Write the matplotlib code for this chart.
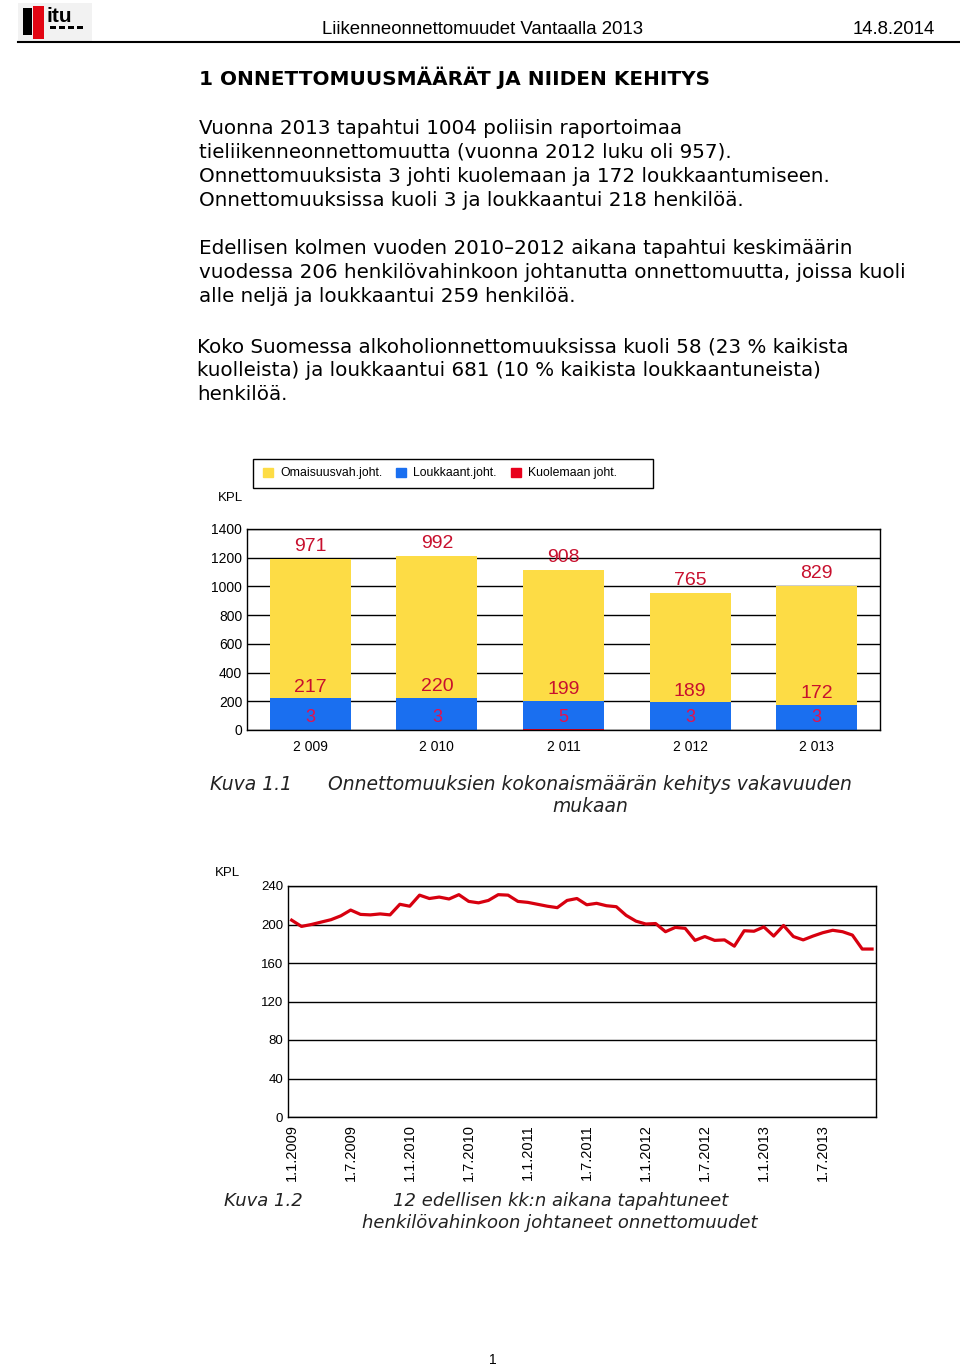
import numpy as np
import matplotlib
matplotlib.use("Agg")
import matplotlib.pyplot as plt
from matplotlib.patches import Rectangle, Patch
from matplotlib.lines import Line2D

plt.rcParams['font.family'] = ['Liberation Sans', 'DejaVu Sans']

# bar chart data (Kuva 1.1)
years = ['2 009', '2 010', '2 011', '2 012', '2 013']
kuolemaan = [3, 3, 5, 3, 3]
loukkaant = [217, 220, 199, 189, 172]
omaisuus = [971, 992, 908, 765, 829]

# line chart data (Kuva 1.2), monthly from 1.1.2009 to 12.2013
monthly = [204.5, 198, 200, 202.5, 205, 209, 215, 210.5, 210, 211,
           210, 221, 219, 230.5, 227, 228.5, 226.5, 231, 224, 222.5,
           225, 231, 230.5, 224, 223, 221, 219, 217.5, 225, 227,
           220.5, 222, 219.5, 218.5, 209.5, 203.5, 200.5, 201, 192.5, 197,
           196, 183.5, 187.5, 183.5, 184, 177.5, 193.5, 193, 197.5, 188,
           199, 187.5, 184, 188, 191.5, 194, 192.5, 189, 174.5, 174.5]
date_labels = ['1.1.2009', '1.7.2009', '1.1.2010', '1.7.2010', '1.1.2011',
               '1.7.2011', '1.1.2012', '1.7.2012', '1.1.2013', '1.7.2013']

W, H = 960, 1368


def fx(x):
  return x / W


def fy(y):
  return 1 - y / H


def rect(x, y, w, h, color, fill=True):
  # pixel box, top-left corner
  if fill:
    fig.add_artist(Rectangle((fx(x), fy(y + h)), w / W, h / H, color=color, lw=0))
  else:
    fig.add_artist(Rectangle((fx(x), fy(y + h)), w / W, h / H, facecolor='white',
                             edgecolor=color, lw=1))


fig = plt.figure(figsize=(9.6, 13.68), dpi=100)

# --- page header
rect(18, 3, 74, 38, '#f2f2f2')
rect(23, 8, 9, 27, 'black')
rect(33, 6, 11, 33, '#e30613')
fig.text(fx(47), fy(16), 'itu', fontsize=15, fontweight='bold', va='center')
for k in range(4):
  rect(50 + k * 9, 26, 6, 3, 'black')
fig.text(fx(322), fy(30), 'Liikenneonnettomuudet Vantaalla 2013', fontsize=13.4, va='center')
fig.text(fx(935), fy(30), '14.8.2014', fontsize=13.4, va='center', ha='right')
fig.add_artist(Line2D([fx(18), fx(960)], [fy(42), fy(42)], color='black', lw=1.5))

# --- text
body = ['DejaVu Sans']
fig.text(fx(199), fy(78), '1 ONNETTOMUUSMÄÄRÄT JA NIIDEN KEHITYS', fontsize=14.4,
         fontweight='bold', va='center', family=body)
lines = [
  (199, 128, 'Vuonna 2013 tapahtui 1004 poliisin raportoimaa'),
  (199, 152, 'tieliikenneonnettomuutta (vuonna 2012 luku oli 957).'),
  (199, 176, 'Onnettomuuksista 3 johti kuolemaan ja 172 loukkaantumiseen.'),
  (199, 200, 'Onnettomuuksissa kuoli 3 ja loukkaantui 218 henkilöä.'),
  (199, 248, 'Edellisen kolmen vuoden 2010\u20132012 aikana tapahtui keskimäärin'),
  (199, 272, 'vuodessa 206 henkilövahinkoon johtanutta onnettomuutta, joissa kuoli'),
  (199, 296, 'alle neljä ja loukkaantui 259 henkilöä.'),
  (197, 347, 'Koko Suomessa alkoholionnettomuuksissa kuoli 58 (23 % kaikista'),
  (197, 371, 'kuolleista) ja loukkaantui 681 (10 % kaikista loukkaantuneista)'),
  (197, 395, 'henkilöä.'),
]
for x0, y0, s in lines:
  fig.text(fx(x0), fy(y0), s, fontsize=14.3, va='center', family=body)

# --- bar chart
red = '#e8001c'
blue = '#1a6ff0'
yellow = '#fddc45'
lab_col = '#c8102e'
narrow = ['Liberation Sans Narrow', 'Liberation Sans']

ax1 = fig.add_axes([fx(247), fy(730), 633 / W, 201 / H])
x = np.arange(len(years))
base2 = np.array(kuolemaan)
base3 = base2 + np.array(loukkaant)
ax1.bar(x, kuolemaan, width=0.64, color=red)
ax1.bar(x, loukkaant, width=0.64, bottom=base2, color=blue)
ax1.bar(x, omaisuus, width=0.64, bottom=base3, color=yellow)
ax1.set_xlim(-0.5, 4.5)
ax1.set_ylim(0, 1400)
ax1.set_yticks(range(0, 1401, 200))
ax1.set_xticks(x)
ax1.set_xticklabels(years)
ax1.yaxis.grid(True, color='black', lw=1)
ax1.set_axisbelow(True)
ax1.tick_params(length=0, labelsize=10)
ax1.tick_params(axis='x', pad=7)
for sp in ax1.spines.values():
  sp.set_color('black')
  sp.set_linewidth(1)

for i in range(len(years)):
  ax1.annotate(str(omaisuus[i]), (x[i], base3[i] + omaisuus[i]), xytext=(0, 9),
               textcoords='offset points', ha='center', va='center',
               color=lab_col, fontsize=14, family=narrow)
  ax1.annotate(str(loukkaant[i]), (x[i], base3[i]), xytext=(0, 8),
               textcoords='offset points', ha='center', va='center',
               color=lab_col, fontsize=14, family=narrow)
  ax1.annotate(str(kuolemaan[i]), (x[i], 0), xytext=(0, 9),
               textcoords='offset points', ha='center', va='center',
               color='#e8104a', fontsize=13, family=narrow)

# legend box drawn separately, entries spread inside it
rect(253, 459, 400, 29, 'black', fill=False)
handles = [Patch(color=yellow), Patch(color=blue), Patch(color=red)]
leg = fig.legend(handles, ['Omaisuusvah.joht.', 'Loukkaant.joht.', 'Kuolemaan joht.'],
                 loc='center', bbox_to_anchor=(fx(258), fy(488), 364 / W, 29 / H),
                 mode='expand', ncol=3, fontsize=8.8, handlelength=0.8,
                 handleheight=0.8, handletextpad=0.6, borderaxespad=0,
                 frameon=False)
fig.text(fx(218), fy(498), 'KPL', fontsize=9.5, va='center')

cap = ['DejaVu Sans']
fig.text(fx(210), fy(785), 'Kuva 1.1', family=cap, style='italic', fontsize=13.5,
         va='center', color='#222222')
fig.text(fx(590), fy(785), 'Onnettomuuksien kokonaismäärän kehitys vakavuuden',
         family=cap, style='italic', fontsize=13.5, va='center', ha='center', color='#222222')
fig.text(fx(590), fy(807), 'mukaan', family=cap, style='italic', fontsize=13.5,
         va='center', ha='center', color='#222222')

# --- line chart
ax2 = fig.add_axes([fx(288), fy(1117), 588 / W, 231 / H])
ax2.plot(np.arange(len(monthly)), monthly, color='#d7000f', lw=2.3)
ax2.set_ylim(0, 240)
ax2.set_yticks(range(0, 241, 40))
ax2.set_xlim(-0.37, 59.4)
ax2.set_xticks(range(0, 60, 6))
ax2.set_xticklabels(date_labels, rotation=90)
ax2.yaxis.grid(True, color='black', lw=1)
ax2.set_axisbelow(True)
ax2.tick_params(length=0, labelsize=9.5)
ax2.tick_params(axis='x', labelsize=10.5, pad=5)
for sp in ax2.spines.values():
  sp.set_color('black')
  sp.set_linewidth(1)
fig.text(fx(215), fy(873), 'KPL', fontsize=9.5, va='center')

fig.text(fx(224), fy(1201), 'Kuva 1.2', family=cap, style='italic', fontsize=13,
         va='center', color='#222222')
fig.text(fx(561), fy(1201), '12 edellisen kk:n aikana tapahtuneet', family=cap,
         style='italic', fontsize=13, va='center', ha='center', color='#222222')
fig.text(fx(560), fy(1223), 'henkilövahinkoon johtaneet onnettomuudet', family=cap,
         style='italic', fontsize=13, va='center', ha='center', color='#222222')

fig.text(fx(493), fy(1360), '1', fontsize=10, ha='center', va='center')

fig.savefig('out.png', dpi=100, facecolor='white')
